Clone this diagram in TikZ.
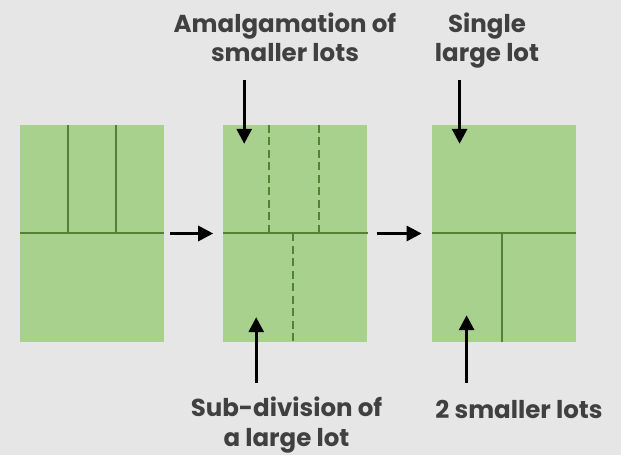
\documentclass[tikz,border=0pt]{standalone}
\usepackage{fontspec}
\setmainfont{Poppins}
\usetikzlibrary{positioning,calc,arrows.meta}
\definecolor{bggrey}{HTML}{E6E6E6}
\definecolor{lotgreen}{HTML}{A9D18E}
\definecolor{linegreen}{HTML}{548235}
\definecolor{labelgrey}{HTML}{404040}

\begin{document}
\begin{tikzpicture}[x=1pt,y=1pt,
	lot/.style={rectangle, fill=lotgreen, minimum width=144pt, minimum height=217pt, inner sep=0pt},
	border/.style={linegreen, line width=2pt},
	proposed/.style={border, dash pattern=on 8pt off 4.5pt},
	pointer/.style={-{Triangle[length=15pt,width=15pt]}, line width=3pt},
	caption/.style={align=center, text=labelgrey, inner sep=0pt,
		font=\fontsize{24.5}{29}\selectfont\bfseries}]
	  \useasboundingbox (0,0) rectangle (621,455);
	  \fill[bggrey] (0,0) rectangle (621,455);

	  \node[lot] (before) at (92,221.5) {}; %
	  \node[lot, right=59pt of before] (middle) {};
	  \node[lot, right=64pt of middle] (after) {};

	  % existing lots
	  \draw[border] (before.west) -- (before.east);
	  \draw[border] ($(before.north west)!1/3!(before.north east)$) -- ($(before.west)!1/3!(before.east)$);
	  \draw[border] ($(before.north west)!2/3!(before.north east)$) -- ($(before.west)!2/3!(before.east)$);

	  % proposed changes
	  \draw[border] (middle.west) -- (middle.east);
	  \draw[proposed] ($(middle.north west)!0.32!(middle.north east)$) -- ($(middle.west)!0.32!(middle.east)$);
	  \draw[proposed] ($(middle.north west)!0.66!(middle.north east)$) -- ($(middle.west)!0.66!(middle.east)$);
	  \draw[proposed] ($(middle.west)!0.48!(middle.east)$) -- ($(middle.south west)!0.48!(middle.south east)$);

	  % new lots
	  \draw[border] (after.west) -- (after.east);
	  \draw[border] ($(after.west)!0.49!(after.east)$) -- ($(after.south west)!0.49!(after.south east)$);

	  \draw[pointer, shorten <=6pt, shorten >=10pt] (before) -- (middle);
	  \draw[pointer, shorten <=9pt, shorten >=10pt] (middle) -- (after);

	  \coordinate (amalgtop) at ($(middle.north west)+(21,45)$);
	  \coordinate (amalgend) at ($(middle.north west)+(21,-19)$);
	  \coordinate (subbot) at ($(middle.south west)+(33,-41)$);
	  \coordinate (subend) at ($(middle.south west)+(33,25)$);
	  \coordinate (singletop) at ($(after.north west)+(28,45)$);
	  \coordinate (singleend) at ($(after.north west)+(28,-19)$);
	  \coordinate (twobot) at ($(after.south west)+(35,-41)$);
	  \coordinate (twoend) at ($(after.south west)+(35,27)$);

	  \draw[pointer] (amalgtop) -- (amalgend);
	  \draw[pointer] (subbot) -- (subend);
	  \draw[pointer] (singletop) -- (singleend);
	  \draw[pointer] (twobot) -- (twoend);

	  \node[caption, anchor=base] (amalg) at (285,393) {Amalgamation of\\smaller lots};
	  \node[caption, anchor=base] (single) at (487,393) {Single\\large lot};
	  \node[caption, anchor=base] (subdiv) at (286.5,9) {Sub-division of\\a large lot};
	  \node[caption, anchor=base] (two) at (519,36) {2 smaller lots};

\end{tikzpicture}
\end{document}
